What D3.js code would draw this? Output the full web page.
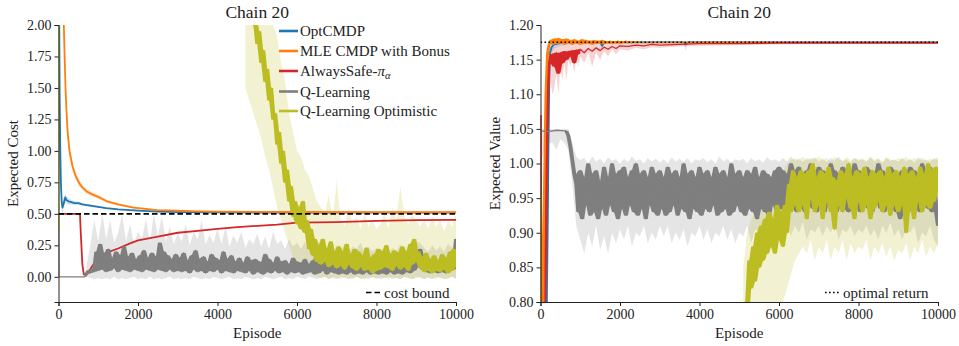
<!DOCTYPE html>
<html><head><meta charset="utf-8">
<script src="https://cdn.jsdelivr.net/npm/d3@7"></script>
<style>
body{margin:0;background:#fff;}
text{font-family:"Liberation Serif","Times New Roman",serif;fill:#222;}
</style></head><body>
<svg id="chart" width="959" height="346"></svg>
<script>
// ---------------- DATA ----------------
const chartTitle = "Chain 20";
const seriesNames = ["OptCMDP","MLE CMDP with Bonus","AlwaysSafe-π_α","Q-Learning","Q-Learning Optimistic"];
const seriesColors = ["#1f77b4","#ff7f0e","#d62728","#7f7f7f","#bcbd22"];
const episodeTicks = [0,2000,4000,6000,8000,10000];
const costTicks = [0,0.25,0.5,0.75,1.0,1.25,1.5,1.75,2.0];
const valueTicks = [0.80,0.85,0.90,0.95,1.00,1.05,1.10,1.15,1.20];
const costBound = 0.5;
const optimalReturn = 1.175;

// ---- Left panel: expected cost ----
const costBlueEp  = [0,15,30,45,60,80,100,130,170,200,250,300,400,500,600,800,1000,1200,1500,2000,2500,3000,4000,5000,6000,8000,10000];
const costBlueVal = [2.6,2.2,1.4,1.0,0.75,0.6,0.55,0.58,0.63,0.61,0.6,0.595,0.585,0.585,0.575,0.565,0.555,0.545,0.535,0.525,0.518,0.514,0.512,0.511,0.51,0.51,0.51];
const costBlueLo  = [2.3,1.9,1.1,0.8,0.6,0.52,0.5,0.54,0.59,0.58,0.575,0.575,0.57,0.57,0.565,0.555,0.548,0.54,0.53,0.52,0.514,0.511,0.51,0.509,0.508,0.508,0.508];
const costBlueHi  = [2.9,2.5,1.7,1.2,0.9,0.68,0.6,0.63,0.66,0.64,0.625,0.615,0.6,0.6,0.585,0.575,0.562,0.55,0.54,0.53,0.522,0.517,0.514,0.513,0.512,0.512,0.512];

const costOrangeEp  = [0,60,100,134,150,176,200,230,276,350,420,510,600,700,850,1000,1220,1500,1890,2480,3000,3500,4000,5000,6000,8000,10000];
const costOrangeVal = [4.0,3.0,2.4,2.0,1.8,1.5,1.32,1.15,1.0,0.88,0.81,0.75,0.71,0.68,0.655,0.635,0.6,0.575,0.55,0.53,0.525,0.52,0.518,0.516,0.515,0.514,0.513];
const costOrangeLo  = [3.7,2.8,2.25,1.9,1.7,1.42,1.25,1.1,0.95,0.84,0.78,0.72,0.69,0.66,0.635,0.618,0.587,0.565,0.542,0.525,0.52,0.516,0.515,0.513,0.512,0.511,0.51];
const costOrangeHi  = [4.3,3.2,2.55,2.1,1.9,1.58,1.39,1.2,1.05,0.92,0.84,0.78,0.73,0.7,0.675,0.652,0.613,0.585,0.558,0.536,0.53,0.524,0.521,0.519,0.518,0.517,0.516];

const costRedEp  = [0,540,560,600,636,700,750,800,900,1000,1200,1500,1800,2000,2500,3000,3500,4000,4500,5000,5500,6000,7000,8000,9000,10000];
const costRedVal = [0.5,0.5,0.35,0.1,0.02,0.02,0.04,0.06,0.11,0.16,0.19,0.225,0.265,0.29,0.32,0.35,0.365,0.38,0.395,0.405,0.415,0.43,0.435,0.445,0.45,0.453];

const costGrayLeadEp  = [0,10,650];
const costGrayLeadVal = [0.5,0,0];
const costGrayVal = [ // episodes 700..10000 every 50
 0.02,0.05,0.03,0.06,
 0.04,0.2,0.05,0.26,0.06,0.18,0.04,0.22,0.05,0.15,0.07,0.2,0.04,0.17,0.06,0.24,0.05,0.16,0.04,0.19,0.06,0.14,0.05,
 0.17,0.04,0.21,0.06,0.15,0.05,0.19,0.04,0.16,0.06,0.27,0.05,0.2,0.04,0.17,0.06,0.14,0.04,0.18,0.05,
 0.15,0.04,0.19,0.05,0.13,0.03,0.17,0.06,0.21,0.04,0.14,0.05,0.16,0.03,0.12,0.05,0.18,0.04,0.15,0.06,
 0.13,0.03,0.2,0.05,0.14,0.04,0.17,0.03,0.12,0.05,0.15,0.04,0.11,0.03,0.16,0.05,0.13,0.02,0.14,0.04,
 0.12,0.03,0.02,0.18,0.04,0.14,0.03,0.11,0.05,0.16,0.03,0.12,0.04,0.13,0.02,0.1,0.04,0.15,0.03,0.12,
 0.04,0.11,0.02,0.14,0.03,0.1,0.04,0.13,0.02,0.17,0.03,0.11,0.05,0.12,0.02,0.1,0.04,0.13,0.03,0.09,
 0.02,0.12,0.03,0.1,0.02,0.14,0.04,0.11,0.02,0.09,0.03,0.13,0.02,0.1,0.04,0.12,0.02,0.08,0.03,0.11,
 0.02,0.09,0.03,0.12,0.02,0.1,0.04,0.13,0.02,0.09,0.03,0.11,0.02,0.12,0.04,0.1,0.03,0.14,0.05,0.2,
 0.08,0.22,0.06,0.16,0.04,0.12,0.03,0.1,0.04,0.13,0.03,0.09,0.04,0.12,0.03,0.15,0.05,0.11,0.06,0.3];
const costGrayBandHi = [ // episodes 700..10000 every 100
 0.08,0.25,0.45,0.28,
 0.5,0.3,0.45,0.27,0.35,0.5,0.28,0.42,0.26,0.36,
 0.3,0.46,0.27,0.5,0.32,0.48,0.28,0.4,0.26,0.35,
 0.28,0.42,0.25,0.36,0.3,0.45,0.26,0.33,0.27,0.38,
 0.26,0.4,0.24,0.33,0.27,0.36,0.23,0.3,0.26,0.34,
 0.24,0.32,0.22,0.36,0.26,0.29,0.22,0.3,0.24,0.27,
 0.22,0.28,0.2,0.26,0.23,0.3,0.21,0.26,0.2,0.25,
 0.21,0.26,0.19,0.24,0.22,0.27,0.19,0.24,0.2,0.23,
 0.19,0.25,0.18,0.23,0.2,0.26,0.19,0.24,0.22,0.28,
 0.27,0.23,0.2,0.25,0.21,0.24,0.2,0.26,0.23,0.32];
const costGrayBandLo = [
 0,-0.01,-0.02,-0.01,
 -0.02,-0.01,-0.02,0,-0.02,-0.01,-0.02,-0.01,0,-0.02,
 -0.01,-0.02,0,-0.02,-0.01,-0.02,-0.01,0,-0.02,-0.01,
 -0.02,-0.01,-0.02,0,-0.01,-0.02,-0.01,-0.02,0,-0.01,
 -0.02,-0.01,0,-0.02,-0.01,-0.02,0,-0.01,-0.02,-0.01,
 -0.02,0,-0.01,-0.02,-0.01,0,-0.02,-0.01,-0.02,0,
 -0.01,-0.02,0,-0.01,-0.02,-0.01,0,-0.02,-0.01,-0.02,
 0,-0.01,-0.02,-0.01,0,-0.02,-0.01,-0.02,0,-0.01,
 -0.02,-0.01,0,-0.02,-0.01,-0.02,0,-0.01,-0.02,-0.01,
 0,-0.02,-0.01,-0.02,0,-0.01,-0.02,-0.01,0,-0.02];

const costOliveLeadEp  = [0,15];
const costOliveLeadVal = [0.37,2.6];
const costOliveVal = [ // episodes 4750..10000 every 50
 2.3,2.1,2.2,2.0,2.05,1.85,
 1.95,1.7,1.8,1.55,1.65,1.4,1.5,1.25,1.3,1.05,
 1.15,0.9,1.0,0.75,0.85,0.6,0.72,0.48,0.6,0.42,
 0.55,0.38,0.6,0.35,0.45,0.22,0.38,0.17,0.3,0.12,
 0.25,0.1,0.3,0.12,0.22,0.08,0.28,0.1,0.2,0.07,
 0.24,0.09,0.2,0.06,0.26,0.1,0.18,0.07,0.22,0.05,
 0.2,0.08,0.17,0.05,0.23,0.06,0.15,0.03,0.18,0.05,
 0.22,0.06,0.2,0.08,0.25,0.07,0.18,0.05,0.21,0.09,
 0.19,0.06,0.24,0.08,0.2,0.05,0.26,0.1,0.3,0.12,
 0.2,0.07,0.16,0.04,0.19,0.05,0.14,0.03,0.17,0.05,
 0.13,0.04,0.18,0.06,0.15,0.03,0.2,0.05,0.22,0.08];
const costOliveBandHi = [ // episodes 4700..10000 every 100
 2.5,2.4,2.5,2.4,
 2.3,2.2,2.1,2.0,1.9,1.7,1.55,1.3,1.15,1.0,
 0.95,0.85,0.8,0.7,0.6,0.55,0.5,0.65,0.45,0.77,
 0.45,0.4,0.55,0.42,0.48,0.38,0.5,0.4,0.45,0.38,
 0.42,0.5,0.38,0.55,0.45,0.72,0.48,0.42,0.5,0.45,
 0.4,0.45,0.38,0.48,0.4,0.45,0.36,0.44,0.4,0.5];
const costOliveBandLo = [
 1.5,1.4,1.3,1.2,
 1.1,0.95,0.85,0.7,0.55,0.45,0.35,0.25,0.15,0.1,
 0.08,0.05,0.03,0.01,0,-0.01,0,-0.02,0,-0.01,
 -0.02,0,-0.01,-0.02,0,-0.01,-0.02,0,-0.01,-0.02,
 0,-0.01,-0.02,0,-0.01,-0.02,0,-0.01,-0.02,0,
 -0.01,-0.02,0,-0.01,-0.02,0,-0.01,-0.02,0,-0.01];

// ---- Right panel: expected value ----
const valBlueEp  = [0,150,180,200,220,240,280,350,500,700,1000,1500,1550,1600,2000,3000,3600,3650,3700,5000,7000,10000];
const valBlueVal = [0.75,0.75,0.9,1.02,1.12,1.16,1.168,1.172,1.174,1.175,1.175,1.175,1.17,1.175,1.175,1.175,1.175,1.172,1.175,1.175,1.175,1.175];
const valBlueLo  = [0.7,0.7,0.85,0.97,1.08,1.14,1.16,1.166,1.17,1.172,1.173,1.173,1.165,1.173,1.174,1.174,1.174,1.163,1.174,1.174,1.174,1.174];
const valBlueHi  = [0.8,0.8,0.95,1.07,1.15,1.175,1.177,1.178,1.178,1.177,1.177,1.177,1.176,1.177,1.176,1.176,1.176,1.176,1.176,1.176,1.176,1.176];

const valOrangeLeadEp  = [0,60,100,140,180,220];
const valOrangeLeadVal = [0.78,0.8,0.95,1.1,1.16,1.172];
const valOrangeMidVal = [ // episodes 250..2500 every 50
 1.178,1.172,1.18,1.173,1.181,1.174,1.179,1.172,1.18,1.175,
 1.178,1.172,1.179,1.174,1.177,1.172,1.179,1.173,1.178,1.174,
 1.177,1.172,1.178,1.173,1.177,1.174,1.178,1.173,1.176,1.174,
 1.177,1.173,1.176,1.174,1.177,1.173,1.176,1.175,1.177,1.174,
 1.176,1.174,1.176,1.175,1.176,1.175];
const valOrangeTailEp  = [2700,3000,4000,6000,8000,10000];
const valOrangeTailVal = [1.175,1.175,1.175,1.175,1.175,1.175];

const valRedEp  = [0,30,100,130,160,190,220,250,300,350,400,450,500,550,600,650,700,750,800,850,900,950,1000,1100,1200,1300,1400,1500,1600,1700,1800,1900,2000,2200,2400,2600,2800,3000,3500,4000,5000,6000,8000,10000];
const valRedVal = [1.07,0.75,0.75,0.85,1.0,1.1,1.145,1.155,1.158,1.14,1.16,1.13,1.16,1.145,1.162,1.15,1.162,1.155,1.163,1.145,1.164,1.158,1.165,1.16,1.166,1.162,1.167,1.163,1.168,1.165,1.169,1.166,1.17,1.169,1.171,1.17,1.172,1.171,1.172,1.173,1.173,1.174,1.174,1.174];
const valRedLo  = [1.0,0.7,0.7,0.8,0.95,1.05,1.1,1.12,1.1,1.11,1.13,1.1,1.14,1.12,1.145,1.12,1.15,1.14,1.15,1.13,1.155,1.14,1.155,1.145,1.16,1.14,1.16,1.15,1.162,1.155,1.165,1.158,1.165,1.163,1.167,1.165,1.168,1.167,1.169,1.17,1.171,1.172,1.173,1.173];
const valRedHi  = [1.1,0.8,0.8,0.9,1.05,1.14,1.165,1.17,1.17,1.168,1.172,1.17,1.173,1.171,1.174,1.172,1.174,1.173,1.175,1.172,1.175,1.174,1.175,1.174,1.175,1.175,1.176,1.175,1.176,1.175,1.176,1.175,1.176,1.176,1.176,1.176,1.176,1.176,1.176,1.176,1.176,1.176,1.176,1.176];

const valGrayLeadEp  = [0,200,400,600];
const valGrayLeadVal = [1.047,1.046,1.048,1.047];
const valGrayVal = [ // episodes 650..10000 every 50
 1.047,1.04,1.025,1.005,0.985,0.97,
 0.93,0.99,0.92,0.98,0.94,1.0,0.925,0.985,0.93,0.99,0.92,0.975,0.935,0.995,0.925,0.98,0.94,1.0,0.93,0.985,0.92,0.99,
 0.935,0.995,0.925,0.98,0.94,0.99,0.93,1.0,0.925,0.985,0.935,0.99,0.92,0.98,0.94,0.995,0.93,0.985,0.925,0.99,
 0.935,0.98,0.925,0.995,0.93,0.985,0.94,0.99,0.925,0.98,0.935,1.0,0.93,0.985,0.92,0.99,0.935,0.98,0.93,0.995,
 0.925,0.985,0.935,0.99,0.93,0.98,0.94,0.995,0.925,0.985,0.93,0.99,0.935,0.98,0.925,1.0,0.93,0.985,0.94,0.99,
 0.93,0.98,0.925,0.99,0.935,0.985,0.93,0.995,0.92,0.98,0.935,0.99,0.93,0.985,0.925,0.98,0.94,0.99,0.93,0.995,
 0.935,0.99,0.93,0.985,0.94,1.0,0.935,0.99,0.93,0.995,0.94,0.985,0.93,0.99,0.945,1.0,0.935,0.985,0.93,0.995,
 0.94,0.99,0.93,0.985,0.945,1.0,0.935,0.99,0.93,0.985,0.94,0.995,0.935,0.99,0.93,0.985,0.945,1.0,0.935,0.99,
 0.93,0.985,0.94,0.995,0.935,0.99,0.93,0.985,0.945,1.0,0.935,0.99,0.93,0.985,0.94,0.995,0.935,0.99,0.93,0.985,
 0.92,0.99,0.935,0.985,0.93,0.995,0.94,0.99,0.935,0.985,0.93,1.0,0.94,0.99,0.935,0.995,0.93,0.985,0.94,0.91];
const valGrayBandHi = [ // episodes 0..10000 every 100
 1.05,1.05,1.05,1.05,1.05,1.05,1.05,
 1.05,1.03,1.01,1.005,
 1.008,1.0,1.01,1.003,1.007,1.0,1.009,1.004,1.006,1.0,
 1.007,1.002,1.01,1.004,1.006,1.0,1.008,1.003,1.007,1.001,
 1.006,1.0,1.009,1.003,1.007,1.002,1.008,1.0,1.006,1.004,
 1.008,1.002,1.006,1.0,1.01,1.003,1.007,1.001,1.006,1.004,
 1.007,1.0,1.008,1.003,1.006,1.001,1.009,1.004,1.006,1.002,
 1.008,1.003,1.01,1.004,1.007,1.002,1.008,1.005,1.009,1.003,
 1.007,1.002,1.008,1.004,1.01,1.003,1.006,1.001,1.008,1.004,
 1.006,1.002,1.009,1.003,1.007,1.0,1.008,1.004,1.006,1.002,
 1.008,1.003,1.007,1.001,1.009,1.004,1.006,1.002,1.008,1.005];
const valGrayBandLo = [
 1.0,1.02,1.03,1.03,1.02,1.035,1.03,
 1.02,0.97,0.91,0.89,
 0.87,0.9,0.88,0.91,0.875,0.895,0.87,0.9,0.885,0.905,
 0.89,0.91,0.88,0.9,0.895,0.91,0.885,0.9,0.89,0.91,
 0.895,0.91,0.885,0.9,0.89,0.905,0.88,0.9,0.895,0.91,
 0.89,0.905,0.885,0.9,0.895,0.91,0.89,0.905,0.885,0.9,
 0.895,0.91,0.885,0.905,0.9,0.91,0.89,0.905,0.895,0.91,
 0.9,0.915,0.895,0.91,0.9,0.915,0.89,0.905,0.9,0.91,
 0.895,0.91,0.9,0.915,0.89,0.905,0.9,0.91,0.895,0.905,
 0.9,0.91,0.895,0.905,0.89,0.91,0.9,0.915,0.895,0.905,
 0.89,0.905,0.9,0.91,0.885,0.9,0.895,0.91,0.89,0.88];

const valOliveLeadEp  = [0,20];
const valOliveLeadVal = [0.955,0.5];
const valOliveVal = [ // episodes 5100..10000 every 50
 0.75,0.8,0.78,0.86,0.82,0.88,0.83,0.9,0.85,
 0.91,0.86,0.92,0.87,0.93,0.88,0.92,0.87,0.94,0.89,
 0.93,0.88,0.94,0.9,0.97,0.93,0.99,0.94,0.98,0.93,
 0.99,0.94,0.985,0.92,0.99,0.95,1.0,0.93,0.98,0.94,
 0.99,0.92,0.985,0.945,0.995,0.93,0.98,0.905,0.975,0.94,
 0.99,0.93,0.985,0.95,1.0,0.935,0.98,0.92,0.99,0.945,
 0.985,0.93,0.995,0.94,0.98,0.92,0.99,0.935,0.985,0.945,
 0.99,0.93,0.98,0.94,0.995,0.925,0.985,0.94,0.99,0.93,
 0.98,0.94,0.995,0.9,0.985,0.935,0.99,0.92,0.98,0.945,
 0.995,0.93,0.985,0.94,1.0,0.935,0.99,0.945,0.995,0.96];
const valOliveBandHi = [ // episodes 5100..10000 every 100
 0.85,0.9,0.92,0.93,0.95,0.95,0.96,0.97,0.98,0.99,
 0.99,1.0,1.005,1.008,1.005,1.01,1.004,1.008,1.006,1.01,
 1.005,1.008,1.003,1.01,1.006,1.004,1.009,1.005,1.008,1.006,
 1.007,1.004,1.01,1.005,1.008,1.003,1.009,1.006,1.004,1.008,
 1.006,1.01,1.004,1.008,1.005,1.009,1.003,1.007,1.005,1.01];
const valOliveBandLo = [
 0.6,0.62,0.65,0.68,0.7,0.72,0.74,0.76,0.78,0.8,
 0.8,0.82,0.84,0.86,0.87,0.88,0.87,0.89,0.86,0.88,
 0.87,0.89,0.86,0.88,0.87,0.89,0.86,0.885,0.87,0.88,
 0.875,0.89,0.86,0.88,0.87,0.885,0.865,0.88,0.86,0.875,
 0.87,0.885,0.86,0.88,0.87,0.89,0.865,0.88,0.87,0.885];

// ---------------- HELPERS ----------------
const zip = (xs, ys) => xs.map((x,i)=>({x, y: ys[i]}));
const zip3 = (xs, lo, hi) => xs.map((x,i)=>({x, lo: lo[i], hi: hi[i]}));
// extent of a densely sampled noisy trace around each sample (fills the zig-zag solid);
// samples further apart than maxGap episodes are not joined (a gap marker is inserted)
function spanOf(pts, maxGap){
  const out = [];
  pts.forEach((p,i)=>{
    let lo = p.y, hi = p.y;
    [i-1,i+1].forEach(j=>{
      if(j>=0 && j<pts.length && Math.abs(pts[j].x-p.x)<=maxGap){
        lo = Math.min(lo, pts[j].y); hi = Math.max(hi, pts[j].y);
      }
    });
    if(i>0 && p.x-pts[i-1].x>maxGap) out.push(null);
    out.push({x:p.x, lo, hi});
  });
  return out;
}

const svg = d3.select("#chart");
const bandAlpha = 0.2;
const FONT = "Liberation Serif";

function panel(opts){
  const {x0, x1, y0, y1, yDomain, yTicks, ylabel, clipId} = opts;
  const x = d3.scaleLinear().domain([0,10000]).range([x0,x1]);
  const y = d3.scaleLinear().domain(yDomain).range([y1,y0]);
  const g = svg.append("g");
  svg.append("defs").append("clipPath").attr("id",clipId)
    .append("rect").attr("x",x0).attr("y",y0).attr("width",x1-x0).attr("height",y1-y0);
  const plot = g.append("g").attr("clip-path",`url(#${clipId})`);

  const xAxis = d3.axisBottom(x).tickValues(episodeTicks).tickFormat(d3.format("d")).tickSizeOuter(0).tickSize(4).tickPadding(3);
  const yAxis = d3.axisLeft(y).tickValues(yTicks).tickFormat(d3.format(".2f")).tickSizeOuter(0).tickSize(4).tickPadding(3);
  const gx = g.append("g").attr("transform",`translate(0,${y1})`).call(xAxis);
  const gy = g.append("g").attr("transform",`translate(${x0},0)`).call(yAxis);
  [gx,gy].forEach(a=>{
    a.attr("font-family",FONT);
    a.select(".domain").attr("stroke","#222").attr("stroke-width",1);
    a.selectAll(".tick line").attr("stroke","#222").attr("stroke-width",1);
    a.selectAll(".tick text").attr("font-family",FONT).attr("font-size",14).attr("fill","#222");
  });
  g.append("text").attr("x",(x0+x1)/2).attr("y",18).attr("text-anchor","middle")
    .attr("font-size",17.5).text(chartTitle);
  g.append("text").attr("x",(x0+x1)/2).attr("y",338).attr("text-anchor","middle")
    .attr("font-size",15).text("Episode");
  g.append("text").attr("transform",`translate(${x0-41},${(y0+y1)/2}) rotate(-90)`)
    .attr("text-anchor","middle").attr("font-size",15).text(ylabel);

  const line = d3.line().x(d=>x(d.x)).y(d=>y(d.y)).curve(d3.curveLinear);
  const area = d3.area().defined(d=>d!==null).x(d=>x(d.x)).y0(d=>y(d.lo)).y1(d=>y(d.hi));
  return {x,y,g,plot,line,area};
}

function band(p, data, color, alpha){
  p.plot.append("path").datum(data).attr("d",p.area).attr("fill",color)
    .attr("fill-opacity",alpha==null?bandAlpha:alpha).attr("stroke","none");
}
function curve(p, data, color, w){
  p.plot.append("path").datum(data).attr("d",p.line).attr("fill","none")
    .attr("stroke",color).attr("stroke-width",w||1.8).attr("stroke-linejoin","round");
}
function noisyCurve(p, data, color){
  band(p, spanOf(data, 60), color, 1);
  curve(p, data, color, 1.3);
}

// ---------------- LEFT PANEL ----------------
const L = panel({x0:58.5, x1:456, y0:25, y1:302, yDomain:[-0.2,2.0], yTicks:costTicks, ylabel:"Expected Cost", clipId:"clipL"});
const costGrayEp = costGrayLeadEp.concat(d3.range(700,10001,50));
const costOliveEp = costOliveLeadEp.concat(d3.range(4750,10001,50));

band(L, zip3(costBlueEp,costBlueLo,costBlueHi), seriesColors[0]);
band(L, zip3(costOrangeEp,costOrangeLo,costOrangeHi), seriesColors[1]);
band(L, zip3(d3.range(700,10001,100),costGrayBandLo,costGrayBandHi), seriesColors[3]);
band(L, zip3(d3.range(4700,10001,100),costOliveBandLo,costOliveBandHi), seriesColors[4]);

curve(L, zip(costBlueEp,costBlueVal), seriesColors[0]);
curve(L, zip(costOrangeEp,costOrangeVal), seriesColors[1]);
curve(L, zip(costRedEp,costRedVal), seriesColors[2]);
noisyCurve(L, zip(costGrayEp, costGrayLeadVal.concat(costGrayVal)), seriesColors[3]);
noisyCurve(L, zip(costOliveEp, costOliveLeadVal.concat(costOliveVal)), seriesColors[4]);

L.plot.append("path").datum([{x:0,y:costBound},{x:10000,y:costBound}]).attr("d",L.line)
  .attr("stroke","#000").attr("stroke-width",1.6).attr("stroke-dasharray","5.5,3").attr("fill","none");

// legend
const legX = 279, legY = [31,51,71,91.5,111];
seriesNames.forEach((name,i)=>{
  L.g.append("line").attr("x1",legX).attr("x2",legX+19).attr("y1",legY[i]).attr("y2",legY[i])
    .attr("stroke",seriesColors[i]).attr("stroke-width",2.6);
  const t = L.g.append("text").attr("x",legX+21).attr("y",legY[i]+5).attr("font-size",15);
  if(name.includes("π_α")){
    t.append("tspan").text("AlwaysSafe-");
    t.append("tspan").attr("font-style","italic").text("π");
    t.append("tspan").attr("font-style","italic").attr("font-size",10.5).attr("dy",3).text("α");
  } else t.text(name);
});
L.g.append("line").attr("x1",366).attr("x2",382).attr("y1",292.5).attr("y2",292.5)
  .attr("stroke","#000").attr("stroke-width",1.6).attr("stroke-dasharray","5.5,3");
L.g.append("text").attr("x",384).attr("y",297.5).attr("font-size",15).text("cost bound");

// ---------------- RIGHT PANEL ----------------
const R = panel({x0:540.5, x1:938, y0:25, y1:302, yDomain:[0.8,1.2], yTicks:valueTicks, ylabel:"Expected Value", clipId:"clipR"});
const valGrayEp = valGrayLeadEp.concat(d3.range(650,10001,50));
const valOliveEp = valOliveLeadEp.concat(d3.range(5100,10001,50));
const valOrangeEp = valOrangeLeadEp.concat(d3.range(250,2501,50)).concat(valOrangeTailEp);
const valOrangeVal = valOrangeLeadVal.concat(valOrangeMidVal).concat(valOrangeTailVal);

band(R, zip3(valBlueEp,valBlueLo,valBlueHi), seriesColors[0]);
band(R, zip3(valRedEp,valRedLo,valRedHi), seriesColors[2]);
band(R, zip3(d3.range(0,10001,100),valGrayBandLo,valGrayBandHi), seriesColors[3]);
band(R, zip3(d3.range(5100,10001,100),valOliveBandLo,valOliveBandHi), seriesColors[4]);

curve(R, zip(valBlueEp,valBlueVal), seriesColors[0]);
noisyCurve(R, zip(valOrangeEp,valOrangeVal), seriesColors[1]);
noisyCurve(R, zip(valRedEp,valRedVal), seriesColors[2]);
noisyCurve(R, zip(valGrayEp, valGrayLeadVal.concat(valGrayVal)), seriesColors[3]);
noisyCurve(R, zip(valOliveEp, valOliveLeadVal.concat(valOliveVal)), seriesColors[4]);

R.plot.append("path").datum([{x:0,y:optimalReturn},{x:10000,y:optimalReturn}]).attr("d",R.line)
  .attr("stroke","#000").attr("stroke-width",1.6).attr("stroke-dasharray","1.6,2.4").attr("fill","none");
R.g.append("line").attr("x1",825).attr("x2",841).attr("y1",292.5).attr("y2",292.5)
  .attr("stroke","#000").attr("stroke-width",1.6).attr("stroke-dasharray","1.6,2.4");
R.g.append("text").attr("x",843).attr("y",297.5).attr("font-size",15).text("optimal return");
</script>
</body></html>
